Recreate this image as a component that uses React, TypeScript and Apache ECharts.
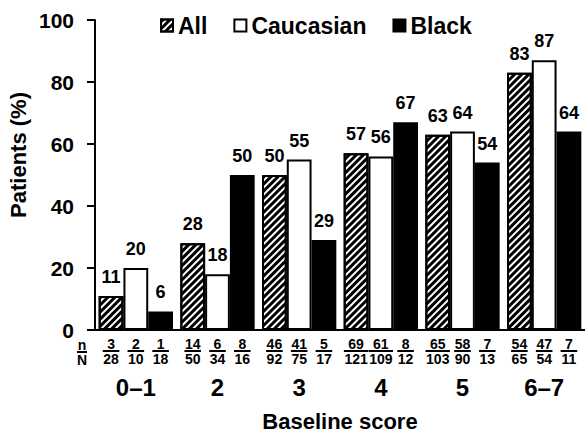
import React, { useEffect, useRef } from "react";
import * as echarts from "echarts";

const categories = ["0–1", "2", "3", "4", "5", "6–7"];
const seriesNames = ["All", "Caucasian", "Black"];
const allValues = [11, 28, 50, 57, 63, 83];
const caucasianValues = [20, 18, 55, 56, 64, 87];
const blackValues = [6, 50, 29, 67, 54, 64];
const allN = [3, 14, 46, 69, 65, 54];
const allTotal = [28, 50, 92, 121, 103, 65];
const caucasianN = [2, 6, 41, 61, 58, 47];
const caucasianTotal = [10, 34, 75, 109, 90, 54];
const blackN = [1, 8, 5, 8, 7, 7];
const blackTotal = [18, 16, 17, 12, 13, 11];
const yTicks = { min: 0, max: 100, interval: 20 };

const FONT = '"Liberation Sans", Arial, Helvetica, sans-serif';
const FRAC_SIZE = 14;

function buildRich() {
  const rich: Record<string, any> = {};
  for (let k = 1; k <= 3; k++) {
    const w = k * 7.8 + 1;
    rich["n" + k] = {
      fontFamily: FONT, fontWeight: "bold", fontSize: FRAC_SIZE, color: "#000",
      width: w, align: "center", lineHeight: 12, height: 12,
    };
    rich["l" + k] = {
      width: w, height: 2, lineHeight: 2, fontSize: 1, backgroundColor: "#000", align: "center",
    };
    rich["d" + k] = {
      fontFamily: FONT, fontWeight: "bold", fontSize: FRAC_SIZE, color: "#000",
      width: w, align: "center", lineHeight: 14, height: 14,
    };
  }
  return rich;
}

function fracFormatter(ns: number[], totals: number[]) {
  return (p: any) => {
    const i = p.dataIndex;
    const n = ns[i];
    const N = totals[i];
    const k = Math.max(String(n).length, String(N).length);
    return `{n${k}|${n}}\n{l${k}| }\n{d${k}|${N}}`;
  };
}

export default function App() {
  const ref = useRef<HTMLDivElement>(null);
  useEffect(() => {
    if (!ref.current) return;
    const chart = echarts.init(ref.current, undefined, { renderer: "svg" });
    const rich = buildRich();
    const valueLabel = {
      show: true,
      position: "top" as const,
      distance: 10,
      fontFamily: FONT,
      fontWeight: "bold" as const,
      fontSize: 18,
      color: "#000",
    };
    const hatch = {
      symbol: "rect",
      symbolSize: 1,
      dashArrayX: [1, 0],
      dashArrayY: [3, 2],
      rotation: -Math.PI / 4,
      color: "#000",
      backgroundColor: "#fff",
    };
    const mainBar = (name: string, data: number[], itemStyle: any) => ({
      name,
      type: "bar",
      xAxisIndex: 0,
      data,
      barGap: "0%",
      barCategoryGap: "9%",
      itemStyle,
      label: valueLabel,
    });
    const fracBar = (name: string, ns: number[], totals: number[]) => ({
      name,
      type: "bar",
      xAxisIndex: 1,
      data: ns.map(() => 0),
      barGap: "0%",
      barCategoryGap: "9%",
      itemStyle: { color: "transparent" },
      label: {
        show: true,
        position: "bottom" as const,
        distance: 8,
        formatter: fracFormatter(ns, totals),
        rich,
      },
      silent: true,
    });
    const axisText = { fontFamily: FONT, fontWeight: "bold" as const, color: "#000" };
    chart.setOption({
      animation: false,
      backgroundColor: "#fff",
      grid: { left: 95, right: -5, top: 20, bottom: 106, containLabel: false },
      legend: {
        data: seriesNames,
        top: 9,
        left: 155,
        itemWidth: 12,
        itemHeight: 12,
        itemGap: 26,
        icon: "rect",
        textStyle: { ...axisText, fontSize: 23 },
      },
      xAxis: [
        {
          type: "category",
          data: categories,
          axisLine: { lineStyle: { color: "#000", width: 2 } },
          axisTick: { show: false },
          axisLabel: { ...axisText, fontSize: 24, margin: 45 },
          name: "Baseline score",
          nameLocation: "middle",
          nameGap: 80,
          nameTextStyle: { ...axisText, fontSize: 22 },
        },
        {
          type: "category",
          data: categories,
          show: false,
        },
      ],
      yAxis: {
        type: "value",
        min: yTicks.min,
        max: yTicks.max,
        interval: yTicks.interval,
        axisLine: { show: true, lineStyle: { color: "#000", width: 2 } },
        axisTick: { show: true, length: 8, lineStyle: { color: "#000", width: 2 } },
        splitLine: { show: false },
        axisLabel: { ...axisText, fontSize: 21, margin: 21 },
      },
      graphic: [
        {
          type: "text",
          x: 18,
          y: 155,
          rotation: Math.PI / 2,
          style: {
            text: "Patients (%)",
            font: `bold 22px ${FONT}`,
            fill: "#000",
            align: "center",
            verticalAlign: "middle",
          },
        },
        {
          type: "text",
          x: 82,
          y: 339,
          style: {
            text: "{n|n}\n{l| }\n{d|N}",
            align: "center",
            verticalAlign: "top",
            rich: {
              n: { fontFamily: FONT, fontWeight: "bold", fontSize: FRAC_SIZE, fill: "#000", width: 10, align: "center", lineHeight: 12, height: 12 },
              l: { width: 10, height: 2, lineHeight: 2, fontSize: 1, backgroundColor: "#000", align: "center" },
              d: { fontFamily: FONT, fontWeight: "bold", fontSize: FRAC_SIZE, fill: "#000", width: 10, align: "center", lineHeight: 14, height: 14 },
            },
          },
        },
      ],
      series: [
        mainBar("All", allValues, { color: "#fff", borderColor: "#000", borderWidth: 2, decal: hatch }),
        mainBar("Caucasian", caucasianValues, { color: "#fff", borderColor: "#000", borderWidth: 2 }),
        mainBar("Black", blackValues, { color: "#000", borderColor: "#000", borderWidth: 2 }),
        fracBar("All n/N", allN, allTotal),
        fracBar("Caucasian n/N", caucasianN, caucasianTotal),
        fracBar("Black n/N", blackN, blackTotal),
      ],
    });
    return () => chart.dispose();
  }, []);
  return (
    <div
      ref={ref}
      style={{ position: "absolute", left: 0, top: 0, width: 585, height: 437, background: "#fff" }}
    />
  );
}
